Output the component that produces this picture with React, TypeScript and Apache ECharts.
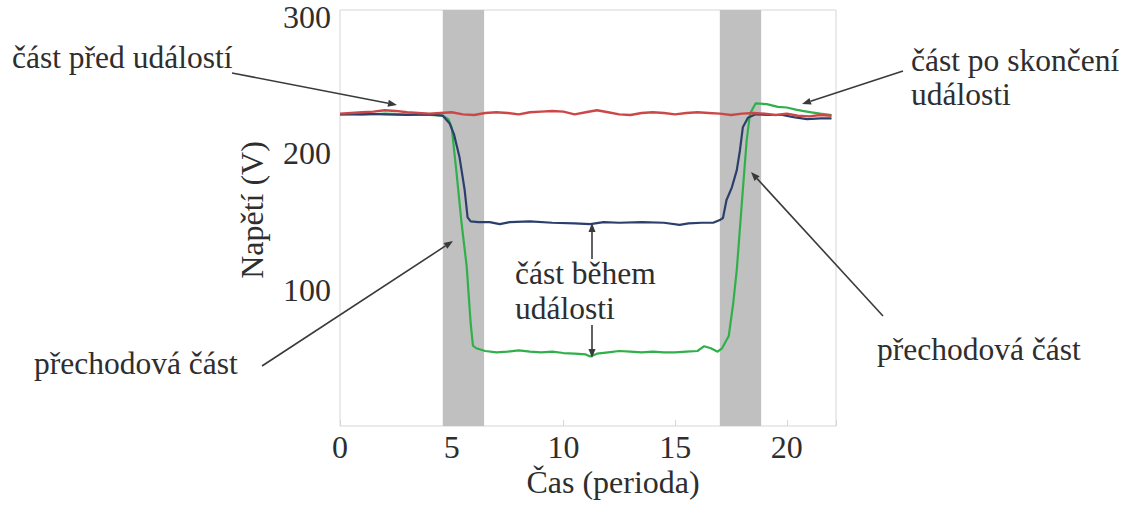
import React, { useEffect, useRef } from "react";
import * as echarts from "echarts";

// ---- data ----
const redTime = [0, 0.5, 1, 1.5, 2, 2.5, 3, 3.5, 4, 4.5, 5, 5.5, 6, 6.5, 7, 7.5, 8, 8.5, 9, 9.5, 10, 10.5, 11, 11.5, 12, 12.5, 13, 13.5, 14, 14.5, 15, 15.5, 16, 16.5, 17, 17.5, 18, 18.5, 19, 19.5, 20, 20.5, 21, 21.5, 22];
const redVoltage = [229, 229.5, 230, 230.5, 231.5, 231, 230, 229.5, 229, 229.5, 230, 228.5, 228, 229.5, 230, 229.5, 228.5, 230, 230.5, 231, 230.5, 228.5, 230, 231.5, 230, 228.5, 228, 229.5, 230, 229.5, 228.5, 229.5, 230, 229.5, 229, 228, 229, 229.5, 229, 228, 229, 227.5, 227, 228, 227.5];

const blueTime = [0, 1, 2, 3, 4, 4.6, 4.9, 5.1, 5.35, 5.58, 5.71, 5.85, 6.2, 6.7, 7.15, 7.6, 8.5, 9.5, 10.5, 11.2, 11.8, 12.5, 13.5, 14.5, 15.2, 15.6, 16.2, 16.7, 17.0, 17.14, 17.3, 17.54, 17.76, 17.9, 18.03, 18.26, 18.6, 19.2, 19.8, 20.3, 20.9, 21.5, 22];
const blueVoltage = [228.5, 229, 228.5, 228, 228.5, 227.5, 222, 214, 197, 173, 153, 150, 149.5, 149.5, 148, 149.5, 150, 149, 148.5, 148, 149.5, 149, 149.5, 149, 147.5, 148.5, 149, 149, 151, 152.5, 165.7, 175, 187.6, 202, 219, 226, 228.5, 228, 228, 226.5, 225, 225.5, 225.5];

const greenTime = [0, 1, 2, 3, 4, 4.6, 4.85, 5.0, 5.22, 5.44, 5.67, 5.85, 5.95, 6.1, 6.5, 7, 7.5, 8, 8.5, 9, 9.5, 10, 10.5, 11, 11.2, 11.5, 12, 12.5, 13, 13.5, 14, 14.5, 15, 15.5, 16, 16.3, 16.6, 16.9, 17.1, 17.4, 17.6, 17.76, 18.03, 18.2, 18.35, 18.6, 19.1, 19.6, 20, 20.4, 20.7, 21.1, 21.5, 22];
const greenVoltage = [228.5, 228, 229, 228.5, 228, 227.5, 225, 219, 185, 149, 117, 75, 59, 57, 55, 54, 54.5, 55.5, 54.5, 54, 54.5, 53.5, 53, 52.5, 51, 53, 54, 55, 54.5, 54, 54.5, 54, 54, 54.5, 55, 58.5, 57, 54.5, 57, 66, 90, 114.6, 173, 209, 229, 236.5, 236, 234, 233.5, 232, 231, 230, 229, 228];

const transitionBands = [
  [4.6, 6.45],
  [17.0, 18.85],
];

const xTicks = [0, 5, 10, 15, 20];
const yTicks = [100, 200, 300];

// ---- layout / style ----
const FONT = '"Liberation Serif", "DejaVu Serif", serif';
const TEXT_COLOR = "#2e2e2e";
const ARROW_COLOR = "#3a3a3a";

const pairs = (t: number[], v: number[]) => t.map((x, i) => [x, v[i]]);

function arrow(x1: number, y1: number, x2: number, y2: number) {
  const dx = x2 - x1;
  const dy = y2 - y1;
  const len = Math.sqrt(dx * dx + dy * dy);
  const ux = dx / len;
  const uy = dy / len;
  const hl = 9;
  const hw = 3.5;
  const bx = x2 - ux * hl;
  const by = y2 - uy * hl;
  return [
    {
      type: "line",
      shape: { x1, y1, x2: bx, y2: by },
      style: { stroke: ARROW_COLOR, lineWidth: 1.6 },
      z: 100,
    },
    {
      type: "polygon",
      shape: {
        points: [
          [x2, y2],
          [bx - uy * hw, by + ux * hw],
          [bx + uy * hw, by - ux * hw],
        ],
      },
      style: { fill: ARROW_COLOR },
      z: 100,
    },
  ];
}

function label(text: string, x: number, y: number, align = "left", size = 31.5) {
  return {
    type: "text",
    x,
    y,
    z: 100,
    style: {
      text,
      font: `${size}px ${FONT}`,
      fill: TEXT_COLOR,
      align,
      verticalAlign: "middle",
    },
  };
}

export default function App() {
  const ref = useRef<HTMLDivElement>(null);

  useEffect(() => {
    if (!ref.current) return;
    const chart = echarts.init(ref.current, null, { renderer: "svg" });

    const graphics: any[] = [
      label("část před událostí", 12, 57),
      label("část po skončení", 911, 60),
      label("události", 911, 94),
      label("přechodová část", 34, 363),
      label("přechodová část", 877, 349),
      label("část během", 515, 273),
      label("události", 515, 308),
      {
        type: "text",
        x: 252,
        y: 210,
        rotation: Math.PI / 2,
        z: 100,
        style: {
          text: "Napětí (V)",
          font: `32px ${FONT}`,
          fill: TEXT_COLOR,
          align: "center",
          verticalAlign: "middle",
        },
      },
      {
        type: "text",
        x: 613,
        y: 482,
        z: 100,
        style: {
          text: "Čas (perioda)",
          font: `32px ${FONT}`,
          fill: TEXT_COLOR,
          align: "center",
          verticalAlign: "middle",
        },
      },
      ...arrow(232, 73, 397, 105),
      ...arrow(903, 71, 802, 104),
      ...arrow(262, 366, 453, 241),
      ...arrow(883, 316, 751, 172),
      ...arrow(592, 259, 592, 223),
      ...arrow(592, 325, 592, 358),
    ];

    chart.setOption({
      animation: false,
      backgroundColor: "#ffffff",
      grid: {
        left: 340,
        top: 10,
        width: 496,
        height: 416,
        show: true,
        borderColor: "#d6d6d6",
        borderWidth: 1,
        backgroundColor: "transparent",
      },
      xAxis: {
        type: "value",
        min: 0,
        max: 22.2,
        interval: 5,
        axisLine: { show: false },
        axisTick: { show: true, inside: true, length: 6, lineStyle: { color: "#d6d6d6" } },
        splitLine: { show: false },
        axisLabel: {
          margin: 5,
          fontFamily: FONT,
          fontSize: 32,
          color: TEXT_COLOR,
          formatter: (v: number) => (xTicks.includes(v) ? String(v) : ""),
        },
      },
      yAxis: {
        type: "value",
        min: 0,
        max: 305,
        interval: 100,
        axisLine: { show: false },
        axisTick: { show: false },
        splitLine: { show: false },
        axisLabel: {
          margin: 9,
          fontFamily: FONT,
          fontSize: 32,
          color: TEXT_COLOR,
          formatter: (v: number) => (yTicks.includes(v) ? String(v) : ""),
        },
      },
      series: [
        {
          type: "line",
          data: [],
          z: 1,
          silent: true,
          markArea: {
            silent: true,
            itemStyle: { color: "#c0c0c0", opacity: 1 },
            data: transitionBands.map((b) => [{ xAxis: b[0] }, { xAxis: b[1] }]),
          },
        },
        {
          name: "green",
          type: "line",
          data: pairs(greenTime, greenVoltage),
          symbol: "none",
          z: 3,
          lineStyle: { color: "#30b04a", width: 2.2 },
        },
        {
          name: "blue",
          type: "line",
          data: pairs(blueTime, blueVoltage),
          symbol: "none",
          z: 3,
          lineStyle: { color: "#2b3f6c", width: 2.2 },
        },
        {
          name: "red",
          type: "line",
          data: pairs(redTime, redVoltage),
          symbol: "none",
          z: 3,
          lineStyle: { color: "#cc4848", width: 2.4 },
        },
      ],
      graphic: graphics,
    });

    return () => chart.dispose();
  }, []);

  return (
    <div
      ref={ref}
      style={{ position: "fixed", left: 0, top: 0, width: 1137, height: 513 }}
    />
  );
}
